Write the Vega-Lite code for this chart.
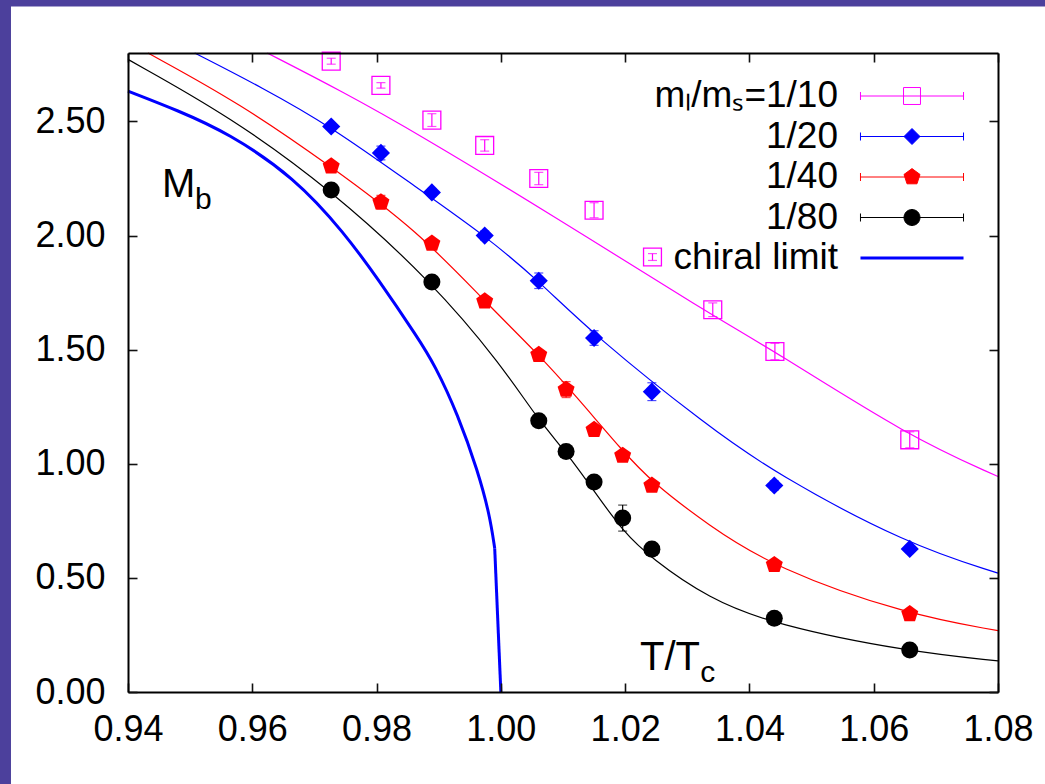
{
  "$schema": "https://vega.github.io/schema/vega-lite/v6.json",
  "width": 870,
  "height": 639,
  "autosize": {"type": "none"},
  "padding": {"left": 128, "top": 53, "right": 47, "bottom": 92},
  "background": "#4c409c",
  "datasets": {
    "points": [
      {"s": "mₗ/mₛ=1/10", "T": 0.9727, "M": 2.764, "err": 0.013},
      {"s": "mₗ/mₛ=1/10", "T": 0.9807, "M": 2.658, "err": 0.012},
      {"s": "mₗ/mₛ=1/10", "T": 0.9889, "M": 2.506, "err": 0.028},
      {"s": "mₗ/mₛ=1/10", "T": 0.9974, "M": 2.395, "err": 0.025},
      {"s": "mₗ/mₛ=1/10", "T": 1.0061, "M": 2.250, "err": 0.027},
      {"s": "mₗ/mₛ=1/10", "T": 1.0150, "M": 2.111, "err": 0.033},
      {"s": "mₗ/mₛ=1/10", "T": 1.0244, "M": 1.906, "err": 0.015},
      {"s": "mₗ/mₛ=1/10", "T": 1.0341, "M": 1.675, "err": 0.030},
      {"s": "mₗ/mₛ=1/10", "T": 1.0441, "M": 1.492, "err": 0.036},
      {"s": "mₗ/mₛ=1/10", "T": 1.0658, "M": 1.105, "err": 0.035},
      {"s": "1/20", "T": 0.9727, "M": 2.478, "err": 0.015},
      {"s": "1/20", "T": 0.9807, "M": 2.362, "err": 0.030},
      {"s": "1/20", "T": 0.9889, "M": 2.189, "err": 0.015},
      {"s": "1/20", "T": 0.9974, "M": 2.000, "err": 0.020},
      {"s": "1/20", "T": 1.0061, "M": 1.802, "err": 0.034},
      {"s": "1/20", "T": 1.0150, "M": 1.551, "err": 0.032},
      {"s": "1/20", "T": 1.0243, "M": 1.316, "err": 0.039},
      {"s": "1/20", "T": 1.0440, "M": 0.905, "err": 0.020},
      {"s": "1/20", "T": 1.0658, "M": 0.627, "err": 0.015},
      {"s": "1/40", "T": 0.9727, "M": 2.304, "err": 0.015},
      {"s": "1/40", "T": 0.9807, "M": 2.146, "err": 0.030},
      {"s": "1/40", "T": 0.9889, "M": 1.965, "err": 0.015},
      {"s": "1/40", "T": 0.9974, "M": 1.712, "err": 0.015},
      {"s": "1/40", "T": 1.0061, "M": 1.478, "err": 0.015},
      {"s": "1/40", "T": 1.0105, "M": 1.325, "err": 0.035},
      {"s": "1/40", "T": 1.0150, "M": 1.149, "err": 0.015},
      {"s": "1/40", "T": 1.0196, "M": 1.036, "err": 0.015},
      {"s": "1/40", "T": 1.0243, "M": 0.905, "err": 0.015},
      {"s": "1/40", "T": 1.0440, "M": 0.557, "err": 0.015},
      {"s": "1/40", "T": 1.0658, "M": 0.342, "err": 0.015},
      {"s": "1/80", "T": 0.9727, "M": 2.200, "err": 0.012},
      {"s": "1/80", "T": 0.9889, "M": 1.797, "err": 0.012},
      {"s": "1/80", "T": 1.0061, "M": 1.189, "err": 0.012},
      {"s": "1/80", "T": 1.0105, "M": 1.054, "err": 0.012},
      {"s": "1/80", "T": 1.0150, "M": 0.920, "err": 0.012},
      {"s": "1/80", "T": 1.0196, "M": 0.762, "err": 0.057},
      {"s": "1/80", "T": 1.0243, "M": 0.626, "err": 0.012},
      {"s": "1/80", "T": 1.0440, "M": 0.323, "err": 0.012},
      {"s": "1/80", "T": 1.0658, "M": 0.184, "err": 0.012}
    ],
    "curves": [
      {"s": "mₗ/mₛ=1/10", "part": "fit", "T": 0.9624, "M": 2.800},
      {"s": "mₗ/mₛ=1/10", "part": "fit", "T": 0.97444, "M": 2.632},
      {"s": "mₗ/mₛ=1/10", "part": "fit", "T": 0.98667, "M": 2.446},
      {"s": "mₗ/mₛ=1/10", "part": "fit", "T": 1.00812, "M": 2.092},
      {"s": "mₗ/mₛ=1/10", "part": "fit", "T": 1.03333, "M": 1.661},
      {"s": "mₗ/mₛ=1/10", "part": "fit", "T": 1.04407, "M": 1.493},
      {"s": "mₗ/mₛ=1/10", "part": "fit", "T": 1.06561, "M": 1.120},
      {"s": "mₗ/mₛ=1/10", "part": "fit", "T": 1.08, "M": 0.944},
      {"s": "1/20", "part": "fit", "T": 0.95073, "M": 2.800},
      {"s": "1/20", "part": "fit", "T": 0.96156, "M": 2.649},
      {"s": "1/20", "part": "fit", "T": 0.97262, "M": 2.479},
      {"s": "1/20", "part": "fit", "T": 0.98667, "M": 2.206},
      {"s": "1/20", "part": "fit", "T": 0.9974, "M": 2.001},
      {"s": "1/20", "part": "fit", "T": 1.00609, "M": 1.802},
      {"s": "1/20", "part": "fit", "T": 1.0151, "M": 1.560},
      {"s": "1/20", "part": "fit", "T": 1.03333, "M": 1.164},
      {"s": "1/20", "part": "fit", "T": 1.04407, "M": 0.959},
      {"s": "1/20", "part": "fit", "T": 1.06552, "M": 0.645},
      {"s": "1/20", "part": "fit", "T": 1.08, "M": 0.521},
      {"s": "1/40", "part": "fit", "T": 0.94322, "M": 2.800},
      {"s": "1/40", "part": "fit", "T": 0.95802, "M": 2.579},
      {"s": "1/40", "part": "fit", "T": 0.97262, "M": 2.304},
      {"s": "1/40", "part": "fit", "T": 0.98667, "M": 2.019},
      {"s": "1/40", "part": "fit", "T": 0.9974, "M": 1.712},
      {"s": "1/40", "part": "fit", "T": 1.00609, "M": 1.478},
      {"s": "1/40", "part": "fit", "T": 1.01188, "M": 1.303},
      {"s": "1/40", "part": "fit", "T": 1.01966, "M": 1.054},
      {"s": "1/40", "part": "fit", "T": 1.02421, "M": 0.922},
      {"s": "1/40", "part": "fit", "T": 1.03333, "M": 0.732},
      {"s": "1/40", "part": "fit", "T": 1.04407, "M": 0.543},
      {"s": "1/40", "part": "fit", "T": 1.06552, "M": 0.338},
      {"s": "1/40", "part": "fit", "T": 1.08, "M": 0.269},
      {"s": "1/80", "part": "fit", "T": 0.94, "M": 2.772},
      {"s": "1/80", "part": "fit", "T": 0.95641, "M": 2.522},
      {"s": "1/80", "part": "fit", "T": 0.97272, "M": 2.200},
      {"s": "1/80", "part": "fit", "T": 0.98892, "M": 1.797},
      {"s": "1/80", "part": "fit", "T": 1.00007, "M": 1.434},
      {"s": "1/80", "part": "fit", "T": 1.00598, "M": 1.193},
      {"s": "1/80", "part": "fit", "T": 1.01053, "M": 1.051},
      {"s": "1/80", "part": "fit", "T": 1.0151, "M": 0.877},
      {"s": "1/80", "part": "fit", "T": 1.01966, "M": 0.703},
      {"s": "1/80", "part": "fit", "T": 1.02421, "M": 0.586},
      {"s": "1/80", "part": "fit", "T": 1.03333, "M": 0.411},
      {"s": "1/80", "part": "fit", "T": 1.04407, "M": 0.294},
      {"s": "1/80", "part": "fit", "T": 1.06552, "M": 0.177},
      {"s": "1/80", "part": "fit", "T": 1.08, "M": 0.136},
      {"s": "chiral limit", "part": "curve", "T": 0.94, "M": 2.633},
      {"s": "chiral limit", "part": "curve", "T": 0.94804, "M": 2.548},
      {"s": "chiral limit", "part": "curve", "T": 0.95609, "M": 2.450},
      {"s": "chiral limit", "part": "curve", "T": 0.96682, "M": 2.255},
      {"s": "chiral limit", "part": "curve", "T": 0.97487, "M": 2.010},
      {"s": "chiral limit", "part": "curve", "T": 0.98023, "M": 1.810},
      {"s": "chiral limit", "part": "curve", "T": 0.98667, "M": 1.551},
      {"s": "chiral limit", "part": "curve", "T": 0.98935, "M": 1.434},
      {"s": "chiral limit", "part": "curve", "T": 0.9931, "M": 1.215},
      {"s": "chiral limit", "part": "curve", "T": 0.99632, "M": 0.966},
      {"s": "chiral limit", "part": "curve", "T": 0.9982, "M": 0.776},
      {"s": "chiral limit", "part": "curve", "T": 0.99901, "M": 0.630},
      {"s": "chiral limit", "part": "tail", "T": 0.99901, "M": 0.630},
      {"s": "chiral limit", "part": "tail", "T": 1.0, "M": 0.0}
    ]
  },
  "config": {
    "view": {"stroke": null},
    "font": "Liberation Sans",
    "axis": {
      "grid": false,
      "domain": true,
      "domainColor": "#000",
      "domainWidth": 2,
      "tickColor": "#111",
      "tickWidth": 1.6,
      "tickSize": -9,
      "labelFont": "Liberation Sans",
      "labelFontSize": 36,
      "labelColor": "#000",
      "labelFlush": false,
      "labelOverlap": false,
      "labelBound": false,
      "title": null
    }
  },
  "resolve": {"axis": {"x": "independent", "y": "independent"}},
  "layer": [
    {
      "data": {"values": [{}]},
      "mark": {"type": "rect", "fill": "#ffffff"},
      "encoding": {
        "x": {"datum": 0.92117, "type": "quantitative", "axis": null},
        "x2": {"datum": 1.2},
        "y": {"datum": 3.004, "type": "quantitative", "axis": null},
        "y2": {"datum": -1}
      }
    },
    {
      "data": {"name": "curves"},
      "transform": [{"filter": "datum.part == 'fit'"}],
      "mark": {"type": "line", "interpolate": "basis", "strokeWidth": 1.2},
      "encoding": {
        "x": {
          "field": "T", "type": "quantitative",
          "scale": {"domain": [0.94, 1.08], "nice": false, "zero": false},
          "axis": {"orient": "bottom", "zindex": 2, "values": [0.94, 0.96, 0.98, 1.0, 1.02, 1.04, 1.06, 1.08], "format": ".2f", "labelPadding": 29}
        },
        "y": {
          "field": "M", "type": "quantitative",
          "scale": {"domain": [0, 2.8], "nice": false, "zero": false},
          "axis": {"orient": "left", "zindex": 2, "values": [0, 0.5, 1, 1.5, 2, 2.5], "format": ".2f", "labelPadding": 32}
        },
        "color": {
          "field": "s", "type": "nominal",
          "scale": {"domain": ["chiral limit", "1/80", "1/40", "1/20", "mₗ/mₛ=1/10"], "range": ["#0000ff", "#000000", "#ff0000", "#0000ff", "#ff00ff"]},
          "legend": null
        }
      }
    },
    {
      "data": {"name": "curves"},
      "transform": [{"filter": "datum.part == 'curve'"}],
      "mark": {"type": "line", "interpolate": "basis", "strokeWidth": 3, "color": "#0000ff"},
      "encoding": {
        "x": {"field": "T", "type": "quantitative", "axis": null},
        "y": {"field": "M", "type": "quantitative", "axis": null}
      }
    },
    {
      "data": {"name": "curves"},
      "transform": [{"filter": "datum.part == 'tail'"}],
      "mark": {"type": "line", "strokeWidth": 3, "color": "#0000ff"},
      "encoding": {
        "x": {"field": "T", "type": "quantitative", "axis": null},
        "y": {"field": "M", "type": "quantitative", "axis": null}
      }
    },
    {
      "data": {"name": "points"},
      "mark": {"type": "errorbar", "ticks": {"size": 9, "thickness": 1.2}, "thickness": 1.2},
      "encoding": {
        "x": {"field": "T", "type": "quantitative", "axis": null},
        "y": {"field": "M", "type": "quantitative", "axis": null},
        "yError": {"field": "err"},
        "color": {
          "field": "s", "type": "nominal",
          "scale": {"domain": ["chiral limit", "1/80", "1/40", "1/20", "mₗ/mₛ=1/10"], "range": ["#0000ff", "#000000", "#ff0000", "#0000ff", "#ff00ff"]},
          "legend": null
        }
      }
    },
    {
      "data": {"name": "points"},
      "transform": [{"filter": "datum.s == 'mₗ/mₛ=1/10'"}],
      "mark": {"type": "point", "shape": "square", "filled": false, "color": "#ff00ff", "size": 320, "strokeWidth": 1.3, "opacity": 1},
      "encoding": {
        "x": {"field": "T", "type": "quantitative", "axis": null},
        "y": {"field": "M", "type": "quantitative", "axis": null}
      }
    },
    {
      "data": {"name": "points"},
      "transform": [{"filter": "datum.s == '1/20'"}],
      "mark": {"type": "point", "shape": "diamond", "filled": true, "color": "#0000ff", "size": 330, "opacity": 1},
      "encoding": {
        "x": {"field": "T", "type": "quantitative", "axis": null},
        "y": {"field": "M", "type": "quantitative", "axis": null}
      }
    },
    {
      "data": {"name": "points"},
      "transform": [{"filter": "datum.s == '1/40'"}],
      "mark": {"type": "point", "shape": "M0,-1L0.951,-0.309L0.588,0.809L-0.588,0.809L-0.951,-0.309Z", "filled": true, "color": "#ff0000", "size": 320, "opacity": 1},
      "encoding": {
        "x": {"field": "T", "type": "quantitative", "axis": null},
        "y": {"field": "M", "type": "quantitative", "axis": null}
      }
    },
    {
      "data": {"name": "points"},
      "transform": [{"filter": "datum.s == '1/80'"}],
      "mark": {"type": "point", "shape": "circle", "filled": true, "color": "#000000", "size": 290, "opacity": 1},
      "encoding": {
        "x": {"field": "T", "type": "quantitative", "axis": null},
        "y": {"field": "M", "type": "quantitative", "axis": null}
      }
    },
    {
      "data": {"values": [{}]},
      "mark": {"type": "text", "text": "M", "align": "left", "baseline": "alphabetic", "fontSize": 40, "font": "Liberation Sans", "color": "#000"},
      "encoding": {
        "x": {"datum": 0.94547, "type": "quantitative", "axis": null},
        "y": {"datum": 2.171, "type": "quantitative", "axis": null}
      }
    },
    {
      "data": {"values": [{}]},
      "mark": {"type": "text", "text": "b", "align": "left", "baseline": "alphabetic", "fontSize": 30, "font": "Liberation Sans", "color": "#000"},
      "encoding": {
        "x": {"datum": 0.95078, "type": "quantitative", "axis": null},
        "y": {"datum": 2.117, "type": "quantitative", "axis": null}
      }
    },
    {
      "data": {"values": [{}]},
      "mark": {"type": "text", "text": "T/T", "align": "left", "baseline": "alphabetic", "fontSize": 40, "font": "Liberation Sans", "color": "#000"},
      "encoding": {
        "x": {"datum": 1.02239, "type": "quantitative", "axis": null},
        "y": {"datum": 0.0965, "type": "quantitative", "axis": null}
      }
    },
    {
      "data": {"values": [{}]},
      "mark": {"type": "text", "text": "c", "align": "left", "baseline": "alphabetic", "fontSize": 30, "font": "Liberation Sans", "color": "#000"},
      "encoding": {
        "x": {"datum": 1.0321, "type": "quantitative", "axis": null},
        "y": {"datum": 0.0439, "type": "quantitative", "axis": null}
      }
    },
    {
      "data": {"name": "curves"},
      "transform": [{"filter": "false"}],
      "mark": {"type": "point", "size": 256},
      "encoding": {
        "x": {"field": "T", "type": "quantitative",
          "axis": {"orient": "top", "zindex": 2, "labels": false, "values": [0.94, 0.96, 0.98, 1.0, 1.02, 1.04, 1.06, 1.08]}},
        "y": {"field": "M", "type": "quantitative",
          "axis": {"orient": "right", "zindex": 2, "labels": false, "values": [0, 0.5, 1, 1.5, 2, 2.5]}},
        "fill": {
          "field": "s", "type": "nominal",
          "scale": {"domain": ["mₗ/mₛ=1/10", "1/20", "1/40", "1/80", "chiral limit"], "range": ["transparent", "#0000ff", "#ff0000", "#000000", "#0000ff"]},
          "legend": {"title": null, "zindex": 3, "orient": "none", "legendX": 765.5, "legendY": 24.5, "padding": 0, "labelFont": "Liberation Sans", "labelFontSize": 37, "labelColor": "#000", "labelAlign": "right", "labelBaseline": "middle", "labelOffset": -92.5, "labelLimit": 600, "rowPadding": 2.5, "symbolSize": 256, "symbolStrokeWidth": 1, "symbolOpacity": 1}
        },
        "stroke": {
          "field": "s", "type": "nominal",
          "scale": {"domain": ["mₗ/mₛ=1/10", "1/20", "1/40", "1/80", "chiral limit"], "range": ["#ff00ff", "#0000ff", "#ff0000", "#000000", "transparent"]},
          "legend": {"title": null, "zindex": 3, "orient": "none", "legendX": 765.5, "legendY": 24.5, "padding": 0, "labelFont": "Liberation Sans", "labelFontSize": 37, "labelColor": "#000", "labelAlign": "right", "labelBaseline": "middle", "labelOffset": -92.5, "labelLimit": 600, "rowPadding": 2.5, "symbolSize": 256, "symbolStrokeWidth": 1, "symbolOpacity": 1}
        },
        "shape": {
          "field": "s", "type": "nominal",
          "scale": {"domain": ["mₗ/mₛ=1/10", "1/20", "1/40", "1/80", "chiral limit"], "range": [
            "M-6.44,0H6.44M-6.44,-0.5V0.5M6.44,-0.5V0.5M-1.06,-1.06H1.06V1.06H-1.06Z",
            "M-6.44,0H6.44M-6.44,-0.5V0.5M6.44,-0.5V0.5M0,-1L1,0L0,1L-1,0Z",
            "M-6.44,0H6.44M-6.44,-0.5V0.5M6.44,-0.5V0.5M0,-1.05L1,-0.32L0.62,0.85L-0.62,0.85L-1,-0.32Z",
            "M-6.44,0H6.44M-6.44,-0.5V0.5M6.44,-0.5V0.5M1,0A1,1,0,1,1,-1,0A1,1,0,1,1,1,0Z",
            "M-6.44,-0.19H6.44V0.19H-6.44Z"
          ]},
          "legend": {"title": null, "zindex": 3, "orient": "none", "legendX": 765.5, "legendY": 24.5, "padding": 0, "labelFont": "Liberation Sans", "labelFontSize": 37, "labelColor": "#000", "labelAlign": "right", "labelBaseline": "middle", "labelOffset": -92.5, "labelLimit": 600, "rowPadding": 2.5, "symbolSize": 256, "symbolStrokeWidth": 1, "symbolOpacity": 1}
        }
      }
    }
  ]
}
